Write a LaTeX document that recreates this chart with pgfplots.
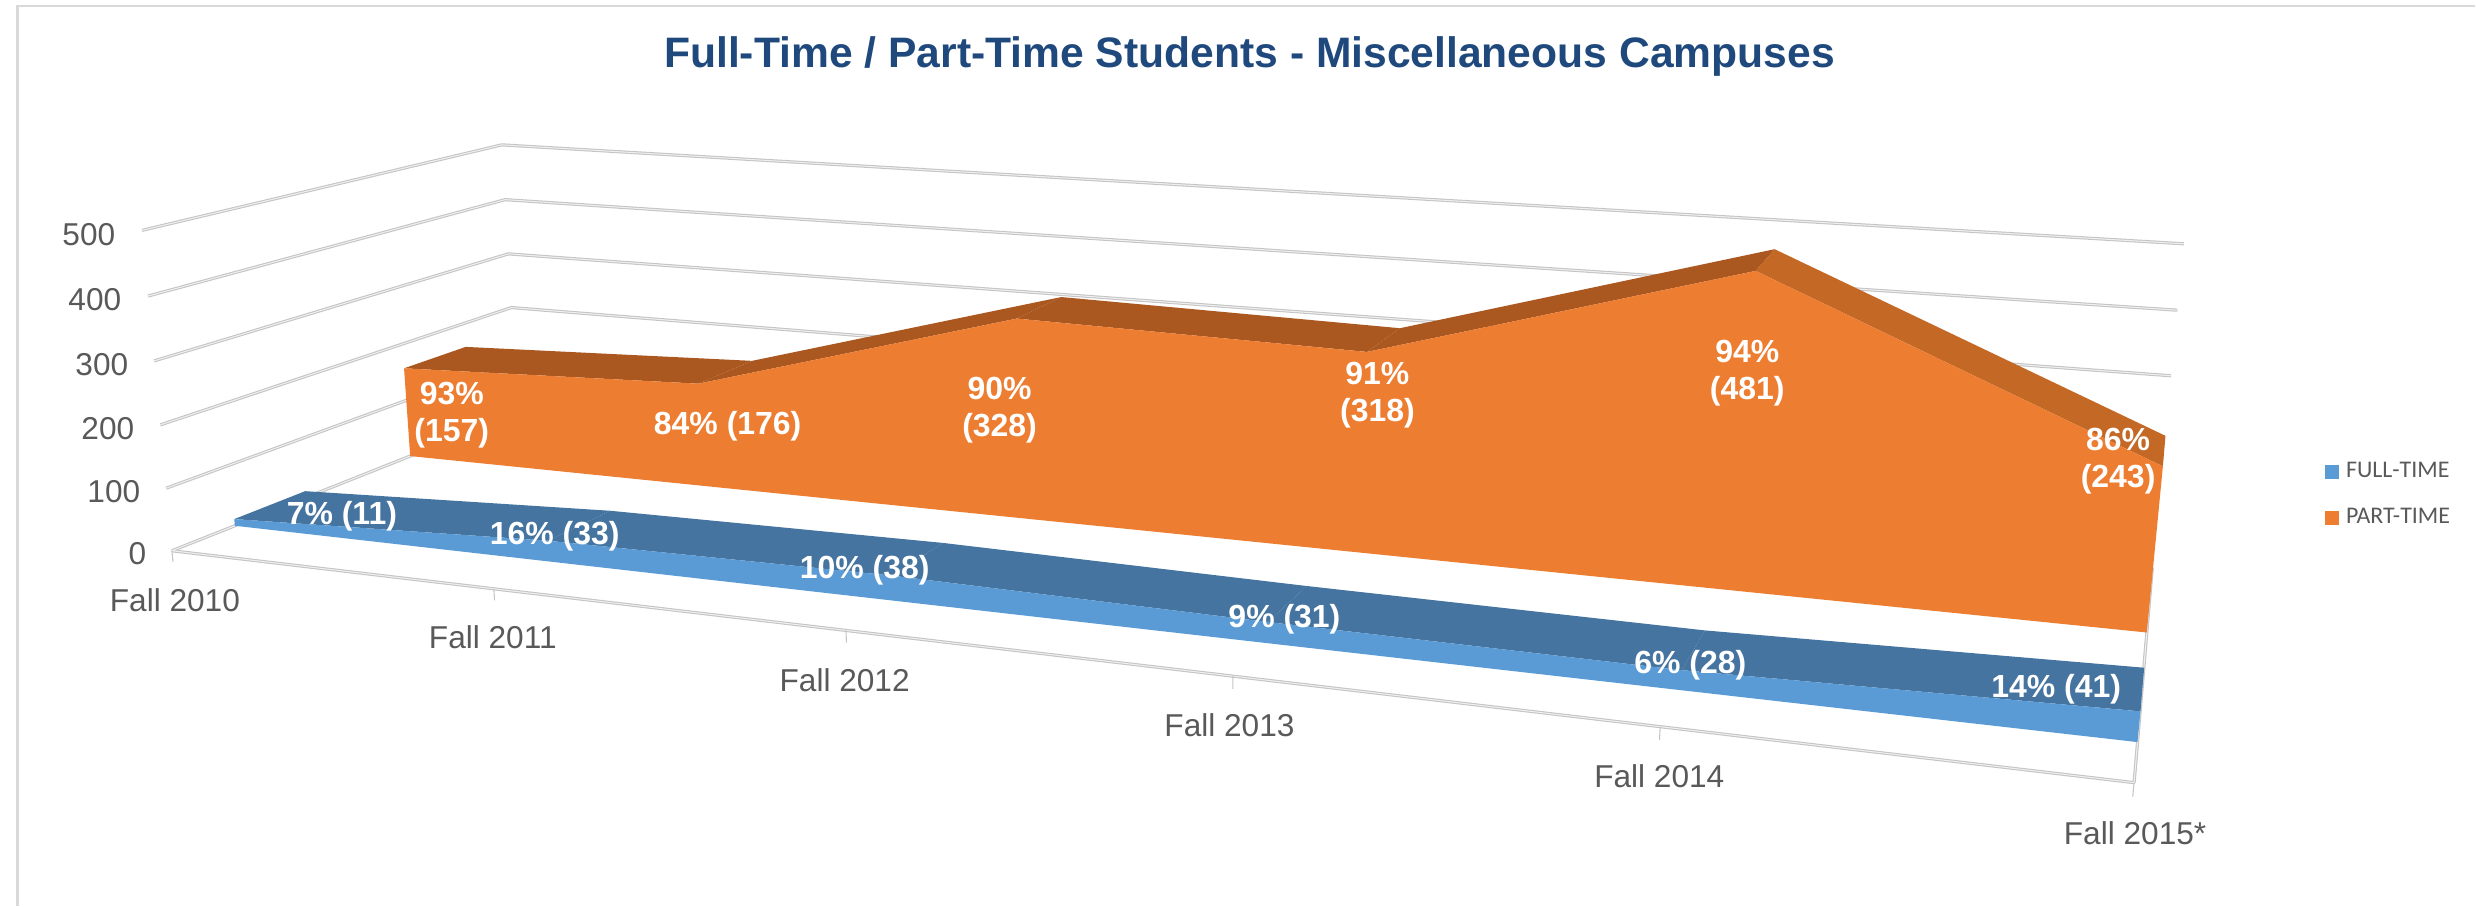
\documentclass[border=0pt]{standalone}
\usepackage{fontspec}
\setmainfont{Liberation Sans}
\newfontfamily\legfont{Carlito}
\usepackage{pgfplots}
\pgfplotsset{compat=1.18}
\definecolor{gridc}{HTML}{C4C4C4}
\definecolor{gridi}{HTML}{EFEFEF}
\definecolor{txt}{HTML}{595959}
\definecolor{ttl}{HTML}{1F497D}
\definecolor{ofront}{HTML}{ED7D31}
\definecolor{otop}{HTML}{AA5820}
\definecolor{ofall}{HTML}{C46826}
\definecolor{bfront}{HTML}{5B9BD5}
\definecolor{btop}{HTML}{44749F}
\pgfplotsset{
  table/proj/.style={x expr={px(\thisrow{c},\thisrow{v},\thisrow{d})},y expr={906-py(\thisrow{c},\thisrow{v},\thisrow{d})},row sep=\\},
  gline/.style={draw=gridc,line width=0.3pt,double=gridi,double distance=0.3pt,forget plot,line join=bevel},
}
% one wall line at value #1: side wall then back wall
\newcommand{\wall}[1]{\addplot[gline] table[proj]{c v d\\ 0 #1 0\\ 0 #1 1\\ 5 #1 1\\};}
% top face of one band between two categories
\newcommand{\seg}[7]{\addplot[fill=#7,draw=none,forget plot] table[proj]{c v d\\ #1 #2 #5\\ #3 #4 #5\\ #3 #4 #6\\ #1 #2 #6\\}--cycle;}
\newcommand{\tl}[3]{\node[anchor=east,font=\fontsize{9}{11}\selectfont,text=txt,inner sep=0pt] at (axis cs:#1,906-#2-2) {#3};}
\newcommand{\cl}[3]{\node[font=\fontsize{9}{11}\selectfont,text=txt,inner sep=0pt] at (axis cs:#1,906-#2-3) {#3};}
\newcommand{\dl}[3]{\node[font=\fontsize{9.1}{10.5}\selectfont\bfseries,text=white,inner sep=0pt,align=center] at (axis cs:#1,906-#2-3) {#3};}
\begin{document}
\begin{tikzpicture}
\begin{axis}[
  scale only axis,width=24.76cm,height=9.06cm,
  xmin=0,xmax=2476,ymin=0,ymax=906,
  hide axis,clip=false,
  declare function={
    den(\uu,\vv,\dd)=1-0.043*\uu-0.00006*\vv+0.2029*\dd;
    px(\uu,\vv,\dd)=(172+300.796*\uu-0.06852*\vv+451.1*\dd)/den(\uu,\vv,\dd);
    py(\uu,\vv,\dd)=(551+12.732*\uu-0.65482*\vv-53.6*\dd)/den(\uu,\vv,\dd);
  },
  legend style={at={(axis cs:2326,906-495.5)},anchor=west,draw=none,fill=none,
    font=\fontsize{6.8}{8}\selectfont\legfont\color{txt},
    row sep=0.11cm,inner sep=0pt,outer sep=0pt,
    /tikz/every even column/.append style={column sep=0pt}},
  legend cell align=left,
  legend image code/.code={\fill[#1] (0cm,-0.07cm) rectangle (0.14cm,0.07cm);},
]
% full picture area
\path (axis cs:0,0) rectangle (axis cs:2476,906);
% chart frame
\addplot[draw=black!15,line width=0.6pt,forget plot] coordinates {(17.5,0) (17.5,900) (2476,900)};
% wall lines
\wall{100}\wall{200}\wall{300}\wall{400}\wall{500}
% floor
\addplot[gline] table[proj]{c v d\\ 0 0 1\\ 0 0 0\\ 5 0 0\\ 5 0 1\\};
\addplot[gline] table[proj]{c v d\\ 0 0 1\\ 5 0 1\\};
% ticks on the front edge
\addplot[draw=gridc,line width=0.3pt,forget plot] table[proj]{c v d\\ 0 0 0\\ 0 -18 0\\};
\addplot[draw=gridc,line width=0.3pt,forget plot] table[proj]{c v d\\ 1 0 0\\ 1 -18 0\\};
\addplot[draw=gridc,line width=0.3pt,forget plot] table[proj]{c v d\\ 2 0 0\\ 2 -18 0\\};
\addplot[draw=gridc,line width=0.3pt,forget plot] table[proj]{c v d\\ 3 0 0\\ 3 -18 0\\};
\addplot[draw=gridc,line width=0.3pt,forget plot] table[proj]{c v d\\ 4 0 0\\ 4 -18 0\\};
\addplot[draw=gridc,line width=0.3pt,forget plot] table[proj]{c v d\\ 5 0 0\\ 5 -18 0\\};
% PART-TIME band
\seg{0}{157}{1}{176}{0.648}{0.842}{otop}
\seg{1}{176}{2}{328}{0.648}{0.842}{otop}
\seg{2}{328}{3}{318}{0.648}{0.842}{otop}
\seg{3}{318}{4}{481}{0.648}{0.842}{otop}
\seg{4}{481}{5}{243}{0.648}{0.842}{ofall}
\addplot[fill=ofront,draw=none,forget plot] table[proj]{c v d\\
0 157 0.648\\ 1 176 0.648\\ 2 328 0.648\\ 3 318 0.648\\ 4 481 0.648\\ 5 243 0.648\\ 5 0 0.648\\ 0 0 0.648\\}--cycle;
% FULL-TIME band
\seg{0}{11}{1}{33}{0.156}{0.344}{btop}
\seg{1}{33}{2}{38}{0.156}{0.344}{btop}
\seg{2}{38}{3}{31}{0.156}{0.344}{btop}
\seg{3}{31}{4}{28}{0.156}{0.344}{btop}
\seg{4}{28}{5}{41}{0.156}{0.344}{btop}
\addplot[fill=bfront,draw=none,forget plot] table[proj]{c v d\\
0 11 0.156\\ 1 33 0.156\\ 2 38 0.156\\ 3 31 0.156\\ 4 28 0.156\\ 5 41 0.156\\ 5 0 0.156\\ 0 0 0.156\\}--cycle;
% legend
\addlegendimage{fill=bfront,draw=none}\addlegendentry{FULL-TIME}
\addlegendimage{fill=ofront,draw=none}\addlegendentry{PART-TIME}
% title
\node[font=\fontsize{12.13}{14}\selectfont\bfseries,text=ttl,inner sep=0pt] at (axis cs:1250,906-57) {Full-Time / Part-Time Students - Miscellaneous Campuses};
% value axis labels
\tl{147}{552}{0}\tl{141}{490}{100}\tl{135}{427}{200}\tl{129}{363}{300}\tl{122}{298}{400}\tl{116}{233}{500}
% category labels
\cl{175}{597}{Fall 2010}\cl{493}{634}{Fall 2011}\cl{845}{677}{Fall 2012}\cl{1230}{723}{Fall 2013}\cl{1660}{774}{Fall 2014}\cl{2136}{831}{Fall 2015*}
% data labels
\dl{452}{412}{93\%\\(157)}\dl{728}{423}{84\% (176)}\dl{1000}{407}{90\%\\(328)}\dl{1378}{392}{91\%\\(318)}\dl{1748}{370}{94\%\\(481)}\dl{2119}{458}{86\%\\(243)}
\dl{342}{513}{7\% (11)}\dl{555}{533}{16\% (33)}\dl{865}{567}{10\% (38)}\dl{1285}{616}{9\% (31)}\dl{1691}{663}{6\% (28)}\dl{2057}{687}{14\% (41)}
\end{axis}
\end{tikzpicture}
\end{document}
